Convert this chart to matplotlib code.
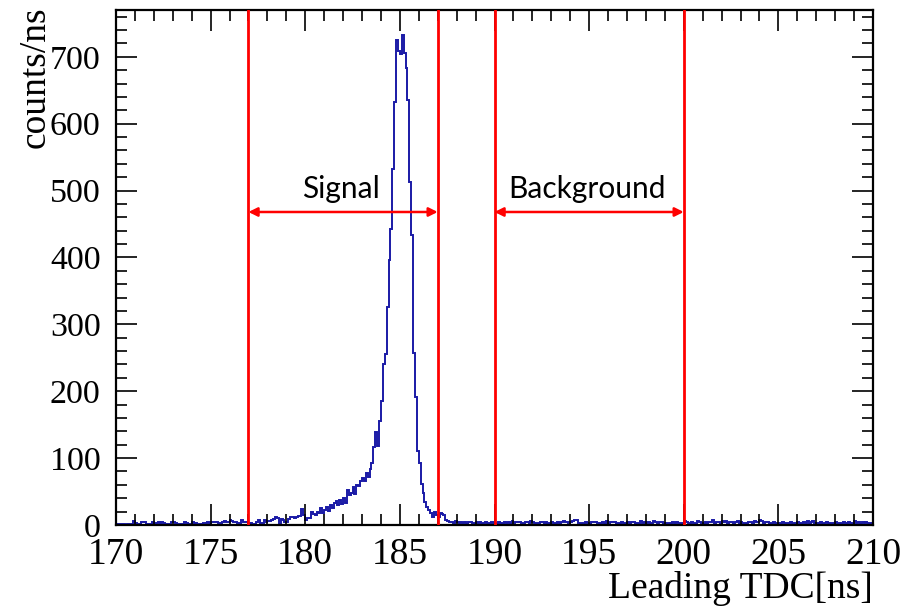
import numpy as np
import matplotlib
matplotlib.use("Agg")
import matplotlib.pyplot as plt
from matplotlib.ticker import MultipleLocator

# Leading TDC histogram, 0.1 ns bins from 170 to 210 ns (counts per bin)
bin_low = 170.0
bin_high = 210.0
bin_width = 0.1

# 170.0 - 176.9 ns
counts_pre = [1, 1, 2, 2, 1, 0, 1, 2, 1, 6,
              3, 2, 2, 5, 5, 4, 2, 2, 1, 4,
              2, 3, 5, 0, 4, 3, 2, 2, 2, 4,
              4, 3, 2, 1, 1, 2, 4, 3, 1, 2,
              5, 2, 3, 2, 1, 2, 3, 3, 4, 3,
              4, 4, 5, 5, 3, 3, 5, 6, 4, 4,
              7, 6, 5, 5, 3, 3, 7, 4, 5, 4]
# 177.0 - 180.9 ns
counts_tail = [2, 3, 2, 2, 5, 7, 3, 3, 8, 5,
               6, 6, 7, 9, 12, 11, 2, 9, 8, 5,
               5, 9, 12, 12, 11, 12, 13, 13, 24, 15,
               7, 11, 11, 19, 16, 15, 20, 18, 25, 18]
# 181.0 - 186.9 ns
counts_peak = [22, 27, 21, 30, 26, 33, 36, 30, 38, 32,
               40, 33, 52, 45, 48, 57, 46, 60, 58, 66,
               71, 66, 78, 72, 84, 92, 117, 139, 118, 155,
               185, 240, 256, 326, 396, 443, 533, 633, 725, 708,
               704, 733, 705, 683, 635, 513, 433, 257, 192, 110,
               92, 62, 48, 35, 27, 22, 18, 12, 20, 15]
# 187.0 - 189.9 ns
counts_gap = [12, 18, 17, 15, 8, 6, 4, 5, 3, 6,
              4, 3, 5, 3, 4, 2, 4, 5, 3, 2,
              4, 3, 5, 2, 3, 4, 2, 3, 5, 3]
# 190.0 - 199.9 ns
counts_bkg = [3, 2, 4, 3, 2, 5, 3, 4, 2, 6,
              3, 5, 4, 5, 3, 2, 5, 4, 3, 6,
              4, 3, 2, 3, 5, 4, 3, 5, 2, 3,
              5, 3, 2, 4, 3, 5, 6, 4, 5, 3,
              5, 6, 7, 7, 3, 2, 3, 2, 4, 3,
              2, 5, 4, 5, 3, 2, 3, 4, 2, 6,
              3, 5, 4, 5, 2, 3, 2, 4, 3, 2,
              4, 3, 5, 4, 2, 3, 2, 6, 3, 4,
              3, 5, 2, 3, 6, 5, 3, 4, 5, 2,
              3, 2, 3, 2, 4, 3, 5, 3, 2, 3]
# 200.0 - 209.9 ns
counts_post = [6, 4, 3, 2, 5, 3, 2, 6, 4, 3,
               2, 4, 3, 5, 4, 7, 3, 5, 4, 2,
               6, 5, 6, 3, 5, 4, 3, 5, 6, 3,
               4, 3, 2, 3, 5, 4, 3, 6, 4, 5,
               7, 6, 3, 4, 5, 3, 2, 5, 3, 2,
               3, 2, 4, 3, 2, 3, 4, 2, 3, 2,
               5, 3, 2, 4, 3, 6, 2, 4, 6, 3,
               2, 3, 4, 2, 3, 5, 2, 3, 2, 3,
               4, 2, 3, 2, 4, 3, 2, 4, 3, 2,
               6, 3, 4, 2, 4, 3, 4, 3, 2, 3]

# selection windows (ns)
signal_window = (177.0, 187.0)
background_window = (190.0, 200.0)
window_labels = ["Signal", "Background"]
arrow_level = 468

counts = np.array(counts_pre + counts_tail + counts_peak + counts_gap
                  + counts_bkg + counts_post, dtype=float)
n_bins = len(counts)
edges = bin_low + bin_width * np.arange(n_bins + 1)

fig = plt.figure(figsize=(9.04, 6.08), dpi=100)
ax = fig.add_axes([116 / 904, 1 - 525 / 608, 757 / 904, 515 / 608])

ax.stairs(counts, edges, color="#1a1aa6", lw=1.4)

ax.set_xlim(bin_low, bin_high)
ax.set_ylim(0, 770)

red = "#ff0000"
for (lo, hi), label in zip([signal_window, background_window], window_labels):
    for xv in (lo, hi):
        ax.axvline(xv, color=red, lw=2.0, zorder=3)
    ax.annotate("", xy=(hi, arrow_level), xytext=(lo, arrow_level),
                arrowprops=dict(arrowstyle="<|-|>", color=red, lw=1.8,
                                mutation_scale=13, shrinkA=0, shrinkB=0),
                zorder=4)
    ax.text((lo + hi) / 2 - 0.1, arrow_level + 34, label, ha="center",
            va="center", fontsize=21.5, family="Lato", color="black")

serif = "Liberation Serif"
ax.xaxis.set_major_locator(MultipleLocator(5))
ax.xaxis.set_minor_locator(MultipleLocator(1))
ax.yaxis.set_major_locator(MultipleLocator(100))
ax.yaxis.set_minor_locator(MultipleLocator(20))
ax.tick_params(which="both", direction="in", top=True, right=True,
               width=1.2, color="black")
ax.tick_params(which="major", length=15)
ax.tick_params(which="minor", length=8)
ax.tick_params(axis="x", which="major", pad=9)
ax.tick_params(axis="y", which="major", pad=11)
for lab in ax.get_xticklabels():
    lab.set_fontfamily(serif)
    lab.set_fontsize(27)
for lab in ax.get_yticklabels():
    lab.set_fontfamily(serif)
    lab.set_fontsize(24.5)

for sp in ax.spines.values():
    sp.set_linewidth(1.6)

fig.text(873 / 904, 1 - 598 / 608, "Leading TDC[ns]", ha="right", va="baseline",
         fontsize=27, family=serif)
fig.text(35 / 904, 1 - 6 / 608, "counts/ns", ha="center", va="top",
         rotation=90, fontsize=27, family=serif)

fig.savefig("out.png", dpi=100)
